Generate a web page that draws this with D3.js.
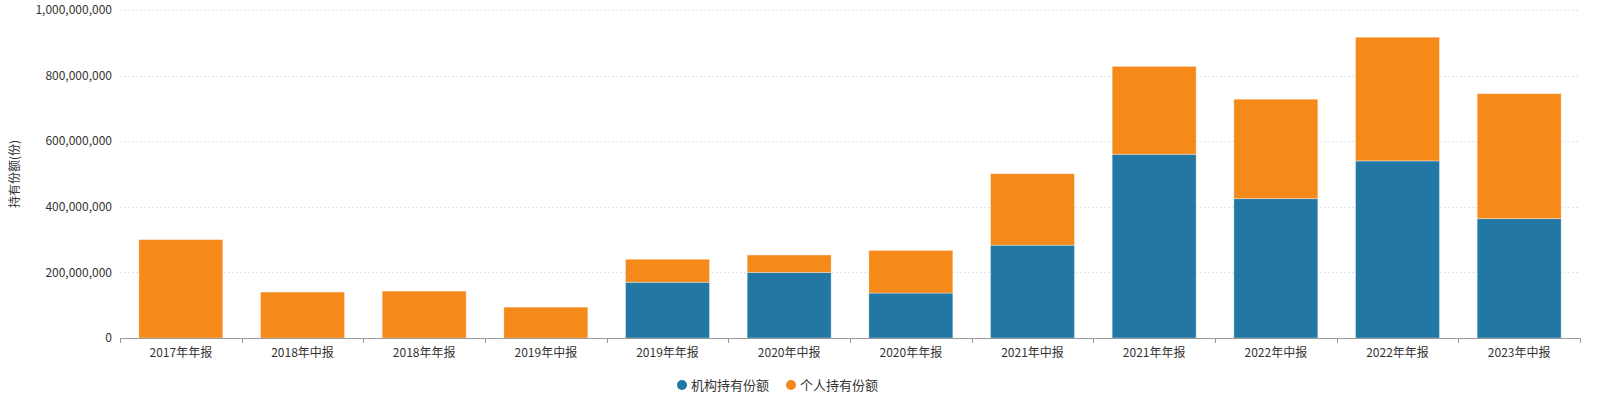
<!DOCTYPE html>
<html><head><meta charset="utf-8">
<script src="https://cdn.jsdelivr.net/npm/d3@7"></script>
<style>body{margin:0;background:#fff}svg{display:block;font-family:"Microsoft YaHei","Noto Sans CJK SC",sans-serif}</style>
</head><body><svg id="c" width="1601" height="400"></svg>
<script>
const categories = ["2017年年报","2018年中报","2018年年报","2019年中报","2019年年报","2020年中报","2020年年报","2021年中报","2021年年报","2022年中报","2022年年报","2023年中报"];
const institutional = [0,0,0,0,170e6,200e6,137e6,283e6,560e6,425e6,540e6,364e6];
const individual = [300e6,140e6,143e6,94e6,70e6,53e6,130e6,218e6,268e6,303e6,377e6,381e6];
const seriesNames = ["机构持有份额","个人持有份额"];
const colors = ["#2377a4","#f5891a"];
const yTicks = [0,200e6,400e6,600e6,800e6,1000e6];
const yTitle = "持有份额(份)";

(function(){
const svg = d3.select("#c");
const L=120,R=1580,T=10,B=338;
const x = d3.scaleBand().domain(categories).range([L,R]).paddingInner(0.31).paddingOuter(0.155);
const y = d3.scaleLinear().domain([0,1e9]).range([B,T]);
const fmt = d3.format(",");

// grid
svg.append("g").selectAll("line").data(yTicks.slice(1)).join("line")
  .attr("x1",L).attr("x2",R).attr("y1",d=>Math.round(y(d))+0.5).attr("y2",d=>Math.round(y(d))+0.5)
  .attr("stroke","#e0e6f1").attr("stroke-dasharray","2,2");

// y labels
svg.append("g").selectAll("text").data(yTicks).join("text")
  .attr("x",L-8).attr("y",d=>y(d)).attr("dy","0.35em").attr("text-anchor","end")
  .attr("font-size",12).attr("fill","#333").text(d=>fmt(d));

svg.append("text").attr("transform",`translate(19,174) rotate(-90)`).attr("text-anchor","middle")
  .attr("font-size",12).attr("fill","#333").text(yTitle);

// bars
const data = categories.map((c,i)=>({c, v:[institutional[i],individual[i]]}));
const stack = d3.stack().keys([0,1]).value((d,k)=>d.v[k])(data);
stack.forEach((s,k)=>{
  svg.append("g").selectAll("rect").data(s.filter(d=>d[1]-d[0]>0)).join("rect")
    .attr("x",d=>x(d.data.c)).attr("width",x.bandwidth())
    .attr("y",d=>y(d[1])).attr("height",d=>y(d[0])-y(d[1]))
    .attr("fill",colors[k]).attr("stroke","rgba(255,255,255,0.35)").attr("stroke-width",1);
});

// x axis
const ax = svg.append("g");
ax.append("line").attr("x1",L).attr("x2",R).attr("y1",B+0.5).attr("y2",B+0.5).attr("stroke","#999");
const bounds = categories.map(c=>x(c)-x.step()*x.paddingInner()/2).concat([R]);
bounds[0]=L;
ax.selectAll("line.t").data(bounds).join("line").attr("class","t")
  .attr("x1",d=>Math.round(d)+0.5).attr("x2",d=>Math.round(d)+0.5).attr("y1",B).attr("y2",B+5).attr("stroke","#999");
ax.selectAll("text").data(categories).join("text")
  .attr("x",c=>x(c)+x.bandwidth()/2).attr("y",353).attr("dy","0.35em").attr("text-anchor","middle")
  .attr("font-size",12).attr("fill","#333").text(c=>c);

// legend
const lg = svg.append("g");
const lx=[682,791];
seriesNames.forEach((n,i)=>{
  lg.append("circle").attr("cx",lx[i]).attr("cy",385).attr("r",5).attr("fill",colors[i]);
  lg.append("text").attr("x",lx[i]+9).attr("y",385).attr("dy","0.35em").attr("font-size",13).attr("fill","#333").text(n);
});
})();
</script></body></html>
